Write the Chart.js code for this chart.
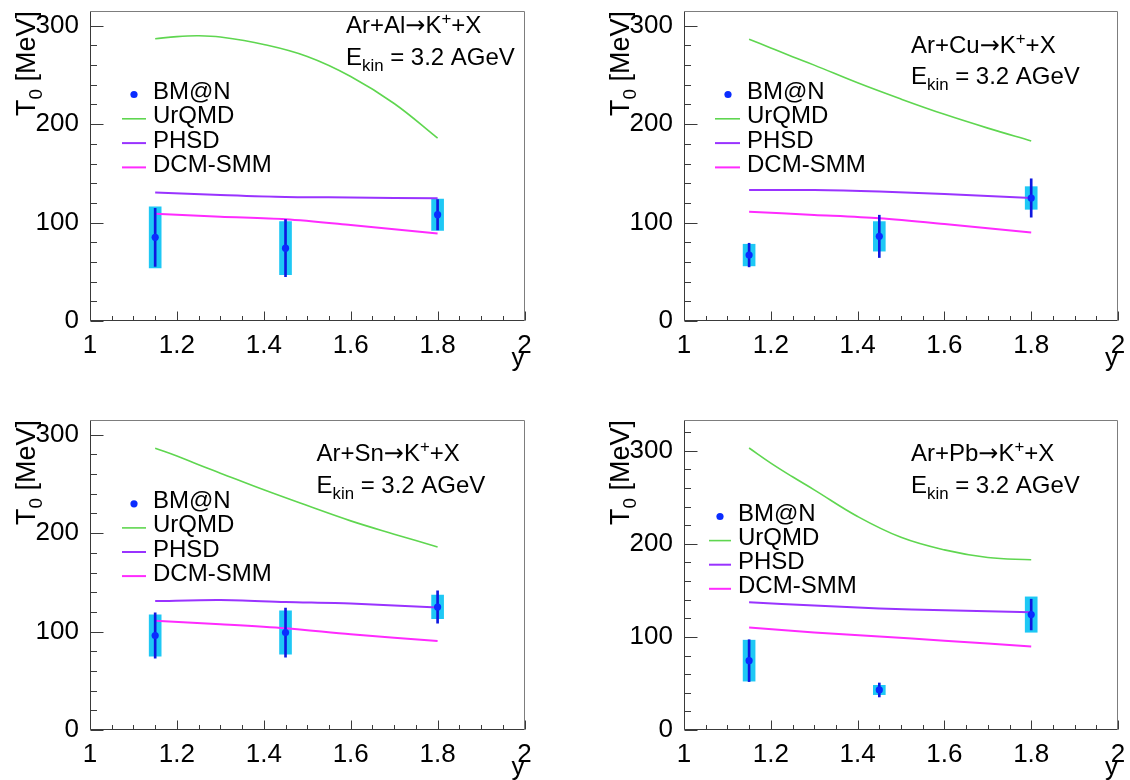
<!DOCTYPE html>
<html>
<head>
<meta charset="utf-8">
<title>Inverse slope T0 of K+ vs rapidity</title>
<script src="https://cdn.jsdelivr.net/npm/chart.js@4.4.1/dist/chart.umd.min.js"></script>
<style>
  html, body { margin: 0; padding: 0; background: #ffffff; }
  #fig { position: relative; width: 1130px; height: 780px; overflow: hidden; background: #ffffff; }
  .pad { position: absolute; width: 565px; height: 390px; }
  .pad canvas { display: block; }
</style>
</head>
<body>
<div id="fig">
  <div class="pad" style="left:0;top:0"><canvas id="padAl" width="565" height="390"></canvas></div>
  <div class="pad" style="left:565px;top:0"><canvas id="padCu" width="565" height="390"></canvas></div>
  <div class="pad" style="left:0;top:390px"><canvas id="padSn" width="565" height="390"></canvas></div>
  <div class="pad" style="left:565px;top:390px"><canvas id="padPb" width="565" height="390"></canvas></div>
</div>
<script>
// ---------------- data ----------------
// BM@N measurement points (rapidity bins)
const rapidity = [1.15, 1.45, 1.8];

const T0_Al   = [85, 74, 108];
const statAl  = [29.5, 29, 15.5];
const sysAl   = [31, 27, 16];

const T0_Cu   = [67, 86, 125];
const statCu  = [12, 21.5, 19.5];
const sysCu   = [11, 15, 11.5];

const T0_Sn   = [96, 99, 125];
const statSn  = [23, 25, 16.5];
const sysSn   = [21, 22, 12];

const T0_Pb   = [74.5, 43, 124];
const statPb  = [22.5, 7.5, 16.5];
const sysPb   = [22, 5, 19];

// model predictions
const urqmdRapidity = [1.15, 1.2, 1.25, 1.3, 1.4, 1.5, 1.6, 1.7, 1.8];
const urqmdAl = [286.8, 289, 289.8, 288.5, 281, 268.8, 248.5, 221, 185.8];
const urqmdCu = [286.4, 277.5, 268.5, 260, 242, 225.5, 210, 196, 183];
const urqmdSn = [286.4, 278.5, 269.5, 261, 244, 228, 212.5, 199, 186];
const urqmdPb = [302.9, 286.7, 272, 258, 229.4, 207, 193.5, 185.3, 182.8];

const modelRapidity = [1.15, 1.3, 1.45, 1.6, 1.8];
const phsdAl = [130.5, 128, 126, 125.5, 124.7];
const phsdCu = [133, 133, 131.5, 129, 125];
const phsdSn = [131, 132, 130, 128.5, 124.4];
const phsdPb = [137.3, 133.7, 130.5, 128.7, 126.5];

const dcmAl = [109, 106, 103.4, 97.6, 89];
const dcmCu = [111, 107.8, 104.4, 98.6, 90];
const dcmSn = [111, 107.5, 103.4, 97.3, 90.5];
const dcmPb = [110, 104.7, 100.4, 96, 89.6];

// tick labels
const xTickLabels = ['1', '1.2', '1.4', '1.6', '1.8', '2'];
const yTickLabels = ['0', '100', '200', '300'];

// text
const legendLabels = ['BM@N', 'UrQMD', 'PHSD', 'DCM-SMM'];
const projectile = 'Ar';
const targetNames = ['Al', 'Cu', 'Sn', 'Pb'];
const beamEnergy = '3.2 AGeV';
const xTitle = 'y';

// ---------------- styles ----------------
const FONT = '"Liberation Sans", Arial, Helvetica, sans-serif';
const ARROW_FONT = '"DejaVu Sans", sans-serif';
const COL = {
  marker: '#0a2cff',
  stat: '#0f18e0',
  sys: '#1ec8f5',
  urqmd: '#5fd650',
  phsd: '#9933ff',
  dcm: '#ff2bff',
  frame: '#7d7d7d',
  axis: '#3a3a3a',
  text: '#000000'
};

Chart.defaults.font.family = FONT;
Chart.defaults.color = COL.text;

// per-pad layout (pixels inside each 565x390 pad)
const pads = [
  { canvas: 'padAl', target: 0, T: T0_Al, stat: statAl, sys: sysAl, urqmd: urqmdAl, phsd: phsdAl, dcm: dcmAl,
    yMax: 315, frame: { l: 90, r: 524.5, t: 11, b: 321 },
    note: { x: 346, y1: 33, y2: 65 },
    legend: { mx: 134, l1: 122, l2: 146, tx: 153, y0: 99, dy: 24.3 } },
  { canvas: 'padCu', target: 1, T: T0_Cu, stat: statCu, sys: sysCu, urqmd: urqmdCu, phsd: phsdCu, dcm: dcmCu,
    yMax: 315, frame: { l: 119, r: 553, t: 11, b: 321 },
    note: { x: 346, y1: 53, y2: 84 },
    legend: { mx: 163, l1: 150, l2: 175, tx: 182, y0: 99, dy: 24.3 } },
  { canvas: 'padSn', target: 2, T: T0_Sn, stat: statSn, sys: sysSn, urqmd: urqmdSn, phsd: phsdSn, dcm: dcmSn,
    yMax: 315, frame: { l: 90, r: 524.5, t: 30, b: 340 },
    note: { x: 316.5, y1: 71, y2: 103 },
    legend: { mx: 134, l1: 122, l2: 146, tx: 153, y0: 118.3, dy: 24.1 } },
  { canvas: 'padPb', target: 3, T: T0_Pb, stat: statPb, sys: sysPb, urqmd: urqmdPb, phsd: phsdPb, dcm: dcmPb,
    yMax: 333, frame: { l: 119, r: 553, t: 30, b: 340 },
    note: { x: 346, y1: 71, y2: 103 },
    legend: { mx: 155, l1: 144, l2: 166, tx: 173, y0: 131, dy: 24.1 } }
];

// draw a run of text pieces with optional sub/superscripts, returns width
function drawRuns(ctx, x, y, runs, size, measureOnly) {
  let cx = x;
  for (const r of runs) {
    const fs = (r.sub || r.sup) ? size * 0.7 : size;
    ctx.font = fs + 'px ' + (r.font || FONT);
    const dy = r.sup ? -size * 0.36 : (r.sub ? size * 0.26 : 0);
    if (!measureOnly) ctx.fillText(r.t, cx, y + dy);
    cx += ctx.measureText(r.t).width;
  }
  return cx - x;
}

function padDecor(p) {
  return {
    id: 'padDecor',
    beforeDatasetsDraw(chart) {
      const { ctx, chartArea: a, scales: { x, y } } = chart;
      const L = Math.round(a.left) + 0.5, R = Math.round(a.right) - 0.5;
      const T = Math.round(a.top) + 0.5, B = Math.round(a.bottom) - 0.5;
      ctx.save();
      // frame
      ctx.lineWidth = 1;
      ctx.strokeStyle = COL.frame;
      ctx.beginPath();
      ctx.moveTo(L, T); ctx.lineTo(R, T); ctx.lineTo(R, B);
      ctx.stroke();
      // axes
      ctx.strokeStyle = COL.axis;
      ctx.beginPath();
      ctx.moveTo(L, T); ctx.lineTo(L, B); ctx.lineTo(R, B);
      // inward ticks
      x.ticks.forEach(t => {
        const px = Math.round(x.getPixelForValue(t.value)) + 0.5;
        const len = t.label ? 9 : 4.5;
        ctx.moveTo(px, B); ctx.lineTo(px, B - len);
      });
      y.ticks.forEach(t => {
        const py = Math.round(y.getPixelForValue(t.value)) + 0.5;
        const len = t.label ? 13 : 6.5;
        ctx.moveTo(L, py); ctx.lineTo(L + len, py);
      });
      ctx.stroke();
      ctx.restore();
    },
    afterDraw(chart) {
      const { ctx, chartArea: a } = chart;
      ctx.save();
      ctx.fillStyle = COL.text;
      ctx.textBaseline = 'alphabetic';
      ctx.textAlign = 'left';

      // y-axis title, rotated, ending at the top of the frame
      const yRuns = [{ t: 'T' }, { t: '0', sub: true }, { t: ' [MeV]' }];
      const ySize = 27;
      const w = drawRuns(ctx, 0, 0, yRuns, ySize, true);
      ctx.save();
      ctx.translate(a.left - 55, a.top);
      ctx.rotate(-Math.PI / 2);
      drawRuns(ctx, -w, 0, yRuns, ySize);
      ctx.restore();

      // x-axis title, right aligned
      ctx.font = '26px ' + FONT;
      ctx.textAlign = 'right';
      ctx.fillText(xTitle, a.right, a.bottom + 44.5);
      ctx.textAlign = 'left';

      // reaction label
      const n = p.note;
      drawRuns(ctx, n.x, n.y1, [
        { t: projectile + '+' + targetNames[p.target] }, { t: '\u2192', font: ARROW_FONT }, { t: 'K' },
        { t: '+', sup: true }, { t: '+X' }
      ], 24);
      drawRuns(ctx, n.x, n.y2, [{ t: 'E' }, { t: 'kin', sub: true }, { t: ' = ' + beamEnergy }], 24);

      // legend
      const g = p.legend;
      const lineCols = [COL.urqmd, COL.phsd, COL.dcm];
      legendLabels.forEach((lab, i) => {
        const by = g.y0 + i * g.dy;
        const sy = by - 4.5;
        if (i === 0) {
          ctx.fillStyle = COL.marker;
          ctx.beginPath(); ctx.arc(g.mx, sy, 3.6, 0, Math.PI * 2); ctx.fill();
        } else {
          ctx.strokeStyle = lineCols[i - 1];
          ctx.lineWidth = i === 1 ? 1.6 : 2;
          ctx.beginPath(); ctx.moveTo(g.l1, sy); ctx.lineTo(g.l2, sy); ctx.stroke();
        }
        ctx.fillStyle = COL.text;
        ctx.font = '24px ' + FONT;
        ctx.fillText(lab, g.tx, by);
      });
      ctx.restore();
    }
  };
}

function makePad(p) {
  const W = 565, H = 390;
  const pts = (xs, ys) => xs.map((x, i) => ({ x: x, y: ys[i] }));
  const band = (err) => rapidity.map((x, i) => ({ x: x, y: [p.T[i] - err[i], p.T[i] + err[i]] }));
  return new Chart(document.getElementById(p.canvas), {
    type: 'line',
    data: {
      datasets: [
        { type: 'scatter', label: legendLabels[0], data: pts(rapidity, p.T),
          pointRadius: 3.6, pointBackgroundColor: COL.marker, pointBorderWidth: 0, order: 0 },
        { type: 'bar', label: 'stat', data: band(p.stat), backgroundColor: COL.stat,
          barThickness: 2, maxBarThickness: 2, grouped: false, borderWidth: 0, order: 1 },
        { type: 'line', label: legendLabels[1], data: pts(urqmdRapidity, p.urqmd), borderColor: COL.urqmd,
          borderWidth: 1.6, pointRadius: 0, tension: 0.4, fill: false, order: 2 },
        { type: 'line', label: legendLabels[2], data: pts(modelRapidity, p.phsd), borderColor: COL.phsd,
          borderWidth: 2, pointRadius: 0, tension: 0.3, fill: false, order: 3 },
        { type: 'line', label: legendLabels[3], data: pts(modelRapidity, p.dcm), borderColor: COL.dcm,
          borderWidth: 2, pointRadius: 0, tension: 0.3, fill: false, order: 4 },
        { type: 'bar', label: 'sys', data: band(p.sys), backgroundColor: COL.sys,
          barThickness: 12, maxBarThickness: 12, grouped: false, borderWidth: 0, order: 5 }
      ]
    },
    options: {
      responsive: false,
      animation: false,
      devicePixelRatio: 1,
      events: [],
      layout: { padding: { left: 0, top: p.frame.t, right: W - p.frame.r, bottom: 0 } },
      plugins: { legend: { display: false }, tooltip: { enabled: false }, title: { display: false } },
      scales: {
        x: {
          type: 'linear', position: 'bottom', min: 1, max: 2, offset: false,
          grid: { display: false }, border: { display: false },
          ticks: {
            stepSize: 0.05, autoSkip: false, maxRotation: 0, minRotation: 0, padding: 1,
            color: COL.text, font: { size: 26, family: FONT },
            callback: (v) => { const s = String(Math.round(v * 100) / 100); return xTickLabels.includes(s) ? s : ''; }
          },
          afterFit: (s) => { s.height = H - p.frame.b; }
        },
        y: {
          type: 'linear', position: 'left', min: 0, max: p.yMax,
          grid: { display: false }, border: { display: false },
          ticks: {
            stepSize: 20, autoSkip: false, includeBounds: false, padding: 3,
            color: COL.text, font: { size: 26, family: FONT },
            callback: (v) => { const s = String(Math.round(v)); return yTickLabels.includes(s) ? s : ''; }
          },
          afterFit: (s) => { s.width = p.frame.l; s.paddingTop = 0; }
        }
      }
    },
    plugins: [padDecor(p)]
  });
}

pads.forEach(makePad);
</script>
</body>
</html>
